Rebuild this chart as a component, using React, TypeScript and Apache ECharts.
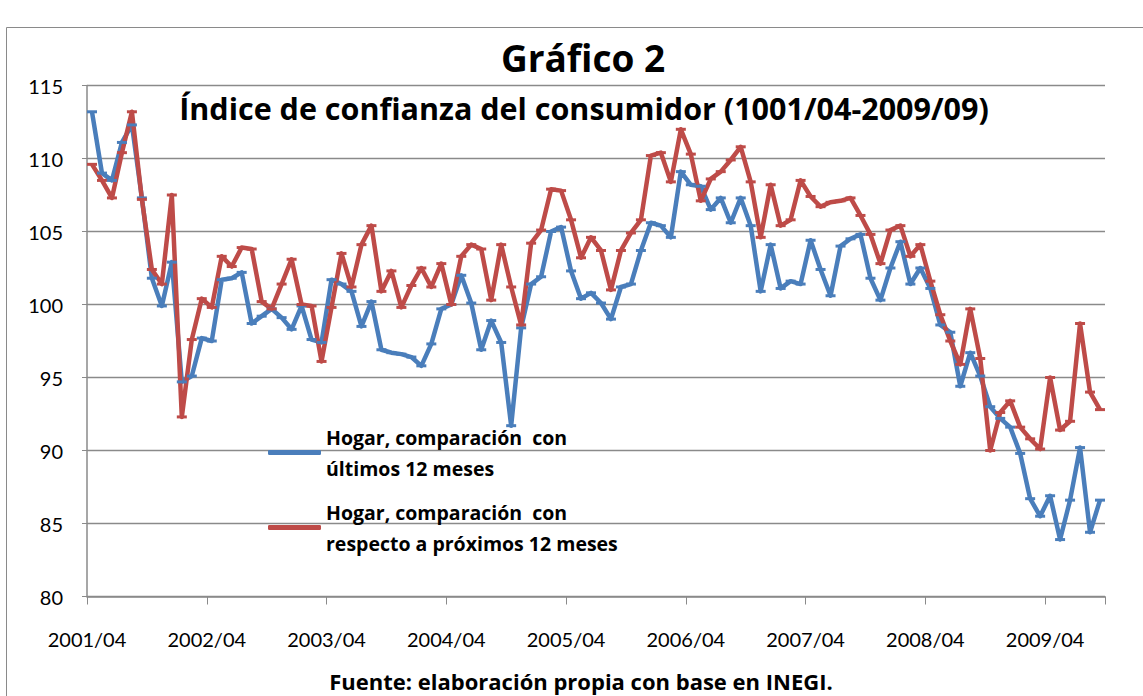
import React, { useEffect, useRef } from "react";
import * as echarts from "echarts";

const START_YEAR = 2001;
const START_MONTH = 4;
const COUNT = 102;
const months: string[] = Array.from({ length: COUNT }, (_, i) => {
  const m = START_MONTH - 1 + i;
  const y = START_YEAR + Math.floor(m / 12);
  const mm = (m % 12) + 1;
  return `${y}/${String(mm).padStart(2, "0")}`;
});

const ultimos: number[] = [
  113.2, 109.0, 108.5, 111.1, 112.3, 107.3, 101.8, 99.9, 102.9, 94.7,
  95.1, 97.7, 97.5, 101.7, 101.8, 102.2, 98.7, 99.2, 99.7, 99.1,
  98.3, 99.9, 97.6, 97.4, 101.7, 101.4, 100.9, 98.5, 100.2, 96.9,
  96.7, 96.6, 96.4, 95.8, 97.3, 99.7, 100.0, 102.0, 100.1, 96.9,
  98.9, 97.4, 91.7, 98.4, 101.4, 101.9, 105.0, 105.3, 102.3, 100.4,
  100.8, 100.1, 99.0, 101.2, 101.4, 103.7, 105.6, 105.4, 104.6, 109.1,
  108.2, 108.1, 106.5, 107.3, 105.6, 107.3, 105.4, 100.9, 104.1, 101.1,
  101.6, 101.4, 104.4, 102.4, 100.6, 104.0, 104.5, 104.8, 101.8, 100.3,
  102.5, 104.3, 101.4, 102.5, 101.1, 98.6, 98.1, 94.4, 96.7, 95.1,
  93.0, 92.2, 91.6, 89.8, 86.7, 85.5, 86.9, 83.9, 86.6, 90.2,
  84.4, 86.6,
];

const proximos: number[] = [
  109.6, 108.5, 107.3, 110.4, 113.2, 107.2, 102.4, 101.4, 107.5, 92.3,
  97.6, 100.4, 99.8, 103.3, 102.6, 103.9, 103.8, 100.2, 99.7, 101.4,
  103.1, 100.0, 99.9, 96.1, 99.8, 103.5, 101.2, 104.1, 105.4, 100.9,
  102.3, 99.8, 101.3, 102.5, 101.2, 102.8, 100.0, 103.3, 104.1, 103.8,
  100.3, 104.1, 101.2, 98.6, 104.2, 105.1, 107.9, 107.8, 105.8, 103.2,
  104.6, 103.7, 101.0, 103.7, 104.9, 105.8, 110.2, 110.4, 108.4, 112.0,
  110.3, 107.1, 108.6, 109.1, 109.9, 110.8, 108.4, 104.6, 108.2, 105.4,
  105.8, 108.5, 107.4, 106.7, 107.0, 107.1, 107.3, 106.1, 104.8, 102.8,
  105.1, 105.4, 103.3, 104.1, 101.6, 99.3, 97.5, 95.9, 99.7, 96.3,
  90.0, 92.6, 93.4, 91.6, 90.8, 90.1, 95.0, 91.4, 92.0, 98.7,
  94.0, 92.8,
];

const NAME_1 = "Hogar, comparación  con\núltimos 12 meses";
const NAME_2 = "Hogar, comparación  con\nrespecto a próximos 12 meses";
const TITLE = "Gráfico 2";
const SUBTITLE = "Índice de confianza del consumidor (1001/04-2009/09)";
const SOURCE = "Fuente: elaboración propia con base en INEGI.";

const BLUE = "#4A7EBB";
const RED = "#BE4B48";
const GRID = "#8A8A8A";
const FONT = "Lato, 'Liberation Sans', sans-serif";
const BOLD_FONT = "'Open Sans', Lato, sans-serif";

export default function App() {
  const ref = useRef<HTMLDivElement>(null);
  useEffect(() => {
    if (!ref.current) return;
    const chart = echarts.init(ref.current, undefined, { renderer: "svg" });
    chart.setOption({
      animation: false,
      backgroundColor: "#ffffff",
      textStyle: { fontFamily: FONT },
      title: [
        {
          text: TITLE, left: 583, top: 39, textAlign: "center", padding: 0,
          textStyle: { fontFamily: BOLD_FONT, fontWeight: "bold", fontSize: 37, color: "#000" },
        },
        {
          text: SUBTITLE, left: 584, top: 92, textAlign: "center", padding: 0,
          textStyle: { fontFamily: BOLD_FONT, fontWeight: "bold", fontSize: 30.5, color: "#000" },
        },
        {
          text: SOURCE, left: 581, top: 670, textAlign: "center", padding: 0,
          textStyle: { fontFamily: BOLD_FONT, fontWeight: "bold", fontSize: 22, color: "#000" },
        },
      ],
      graphic: [
        {
          type: "rect", silent: true, z: -10,
          shape: { x: 6.5, y: 27.5, width: 1300, height: 900 },
          style: { fill: "none", stroke: "#8A8A8A", lineWidth: 1 },
        },
      ],
      legend: {
        orient: "vertical",
        left: 268,
        top: 406,
        padding: 0,
        itemGap: -18,
        itemWidth: 53,
        itemHeight: 5,
        selectedMode: false,
        data: [
          { name: NAME_1, icon: "roundRect" },
          { name: NAME_2, icon: "roundRect" },
        ],
        textStyle: {
          fontFamily: BOLD_FONT, fontWeight: "bold", fontSize: 19.5, lineHeight: 31,
          color: "#000", padding: [31, 0, 0, 0],
        },
      },
      grid: { left: 87, right: 38, top: 85.5, bottom: 99.5, containLabel: false },
      xAxis: {
        type: "category",
        data: months,
        boundaryGap: true,
        axisLine: { show: true, lineStyle: { color: GRID, width: 1.5 } },
        axisTick: { show: true, interval: 11, length: 8, lineStyle: { color: GRID } },
        axisLabel: {
          interval: 11, margin: 32, fontFamily: FONT, fontSize: 20, color: "#000",
          padding: [0, 10, 0, 0],
        },
        splitLine: { show: false },
      },
      yAxis: {
        type: "value",
        min: 80,
        max: 115,
        interval: 5,
        axisLine: { show: true, onZero: false, lineStyle: { color: GRID, width: 1.5 } },
        axisTick: { show: true, length: 5, lineStyle: { color: GRID } },
        axisLabel: { margin: 24, fontFamily: FONT, fontSize: 20, color: "#000" },
        splitLine: { show: true, lineStyle: { color: GRID, width: 1.3 } },
      },
      series: [
        {
          type: "line", name: NAME_1, data: ultimos,
          symbol: "rect", symbolSize: [10, 3], showAllSymbol: true,
          lineStyle: { width: 4.5, color: BLUE, join: "round" },
          itemStyle: { color: BLUE },
        },
        {
          type: "line", name: NAME_2, data: proximos,
          symbol: "rect", symbolSize: [10, 3], showAllSymbol: true,
          lineStyle: { width: 4.5, color: RED, join: "round" },
          itemStyle: { color: RED },
        },
      ],
    });
    return () => chart.dispose();
  }, []);
  return (
    <div
      ref={ref}
      style={{ position: "absolute", left: 0, top: 0, width: 1143, height: 696, background: "#fff" }}
    />
  );
}
